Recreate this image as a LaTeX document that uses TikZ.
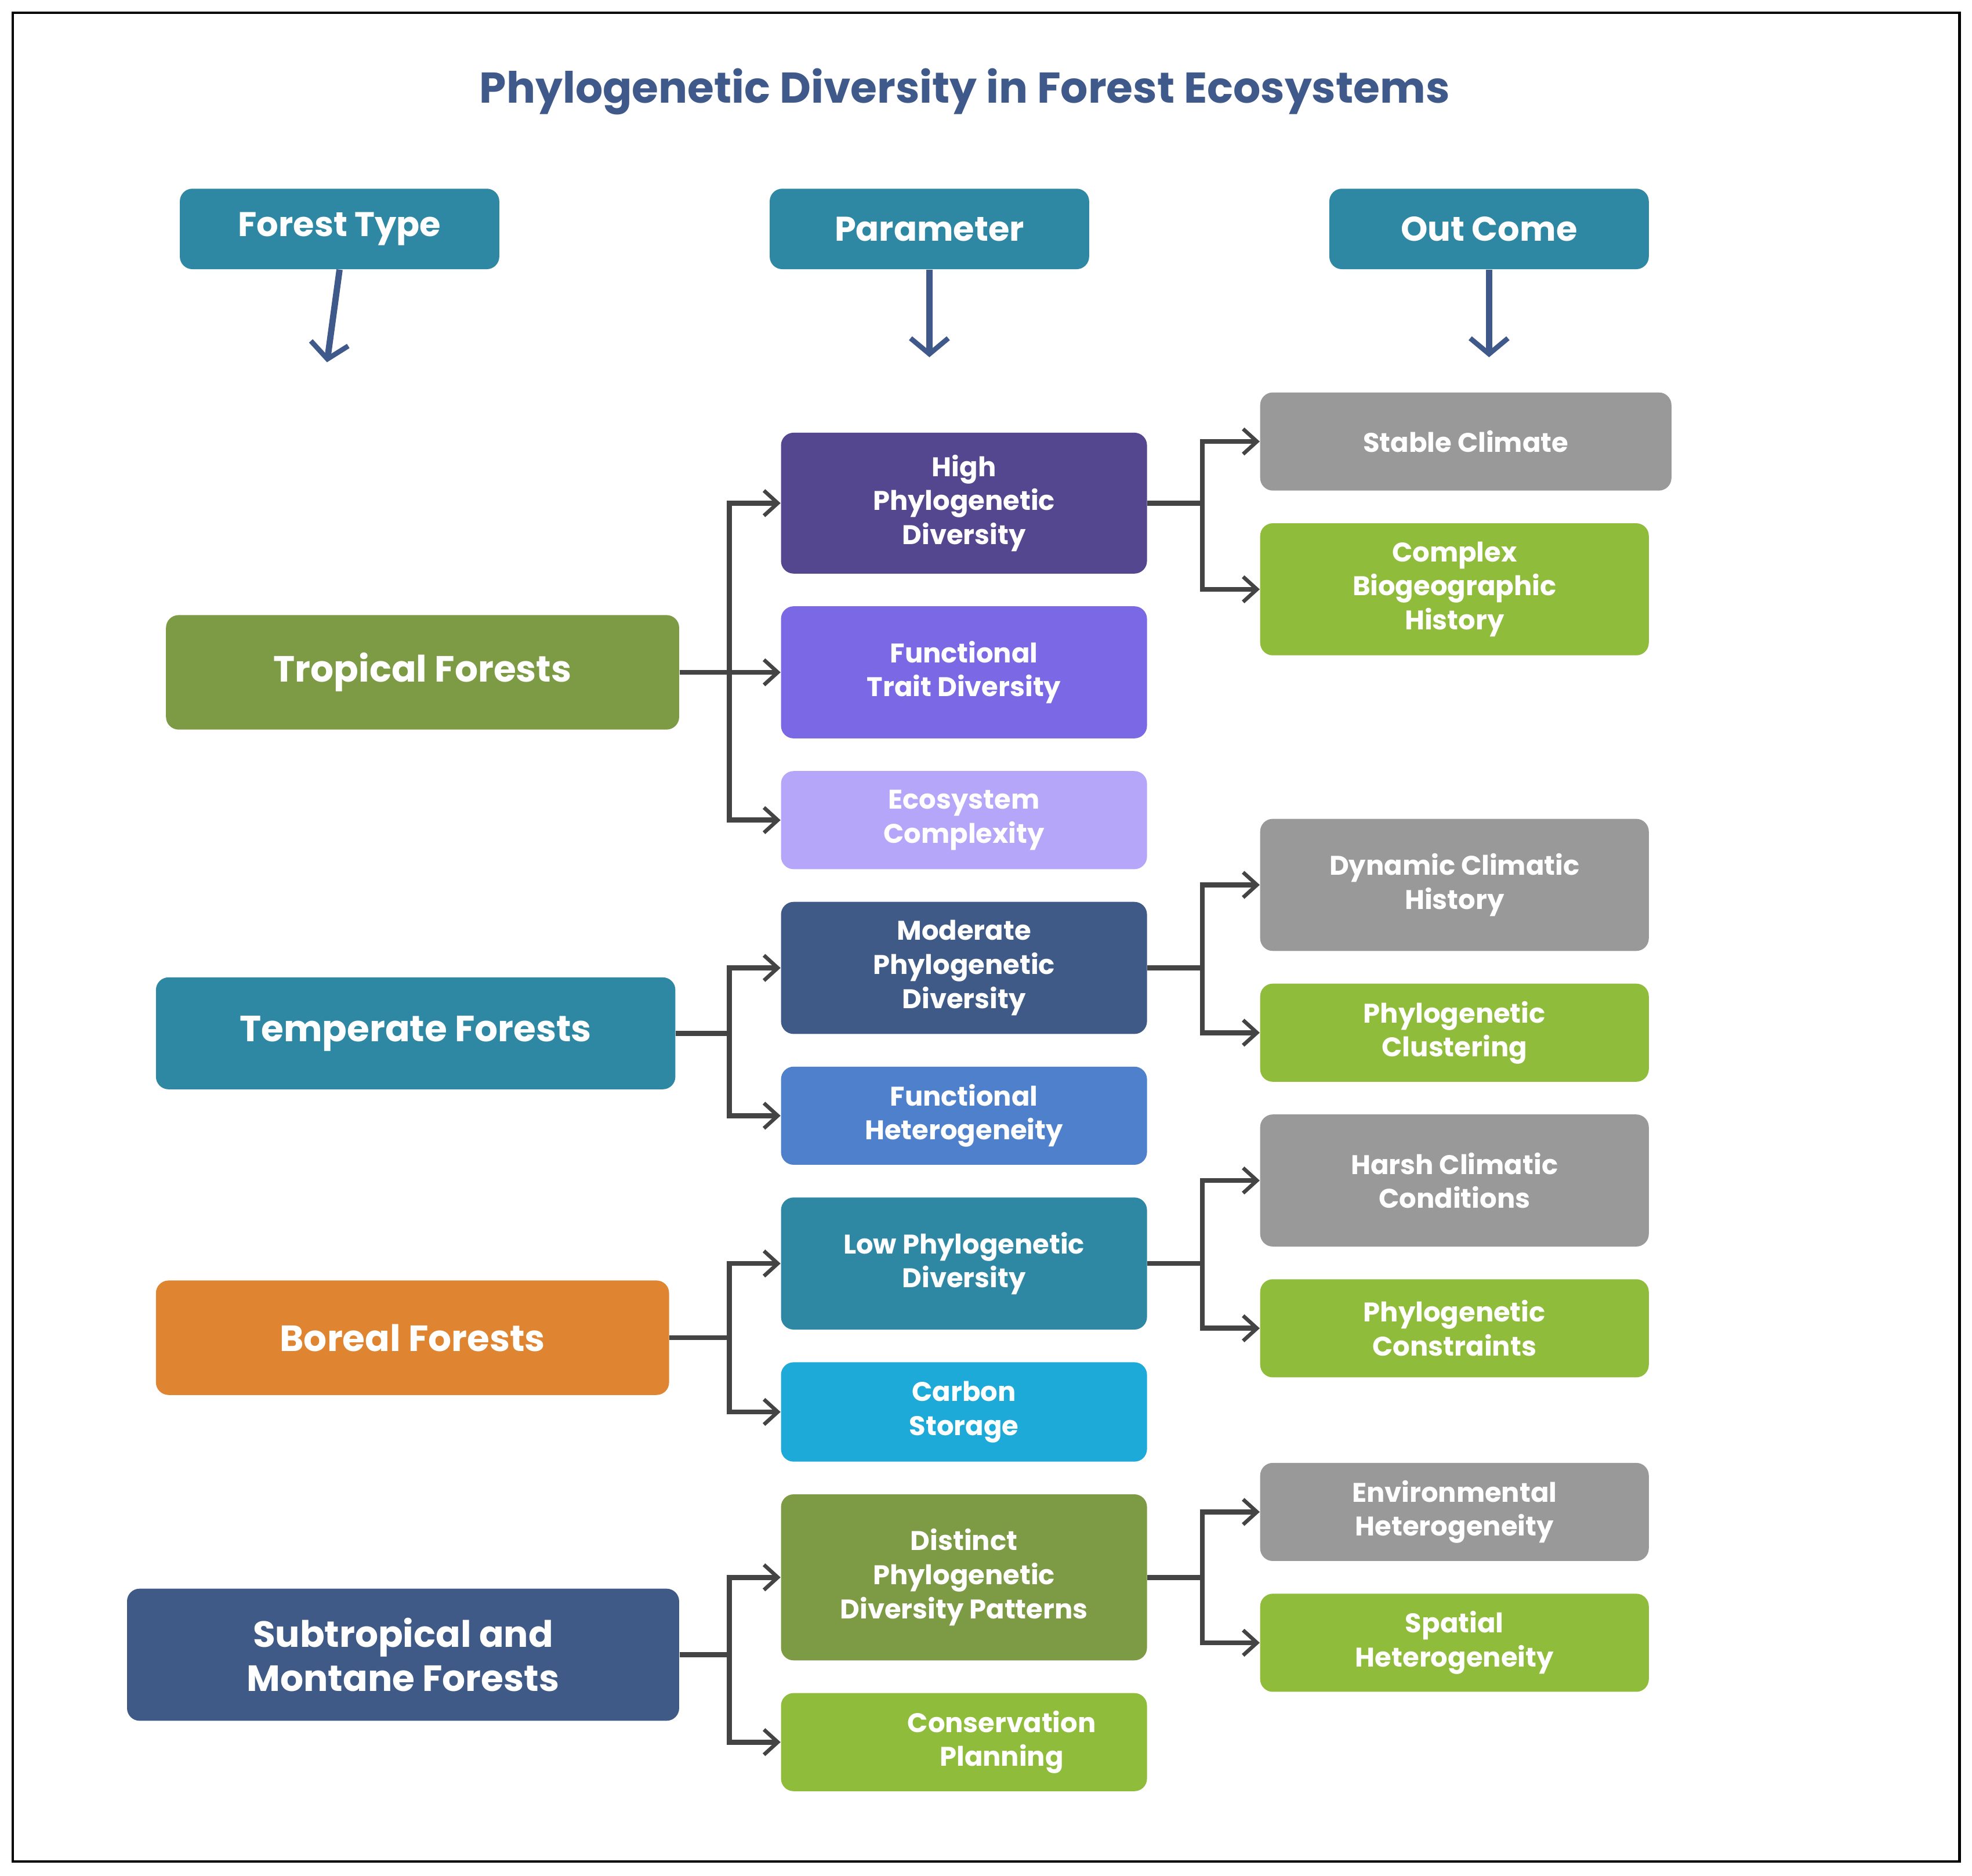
\documentclass[tikz,border=0pt]{standalone}
\usepackage{fontspec}
\setmainfont{Poppins}
\usetikzlibrary{arrows.meta,calc}
\definecolor{ttl}{HTML}{3F5A8A}
\definecolor{hdr}{HTML}{2E88A3}
\definecolor{olive}{HTML}{7D9A45}
\definecolor{orng}{HTML}{DF8430}
\definecolor{navy}{HTML}{3F5A87}
\definecolor{purp}{HTML}{54468F}
\definecolor{viol}{HTML}{7B68E5}
\definecolor{lav}{HTML}{B5A6FA}
\definecolor{blu}{HTML}{4F80CC}
\definecolor{cyan2}{HTML}{1EAAD9}
\definecolor{lime}{HTML}{8FBC3A}
\definecolor{gry}{HTML}{999999}
\definecolor{conn}{HTML}{444444}
\newcommand{\bx}[8]{\node[box,fill=#6,#8,minimum width={(#4-#2)*0.02cm},minimum height={(#5-#3)*0.02cm}] (#1) at ({(#2+#4)/2},{(#3+#5)/2}) {#7};}
\begin{document}
\begin{tikzpicture}[x=0.02cm,y=-0.02cm,
 box/.style={rounded corners=0.2cm,text=white,font=\bfseries,align=center,inner sep=2pt},
 big/.style={font=\fontsize{16.5}{20}\selectfont\bfseries},
 hd/.style={font=\fontsize{15.5}{18}\selectfont\bfseries},
 sm/.style={font=\fontsize{12.2}{15.4}\selectfont\bfseries},
 cn/.style={draw=conn,line width=0.08cm,-{Straight Barb[length=0.22cm,width=0.4cm,line width=0.06cm]}},
 dn/.style={draw=ttl,line width=0.1cm,-{Straight Barb[length=0.25cm,width=0.6cm,line width=0.08cm]}}]
\useasboundingbox (0,0) rectangle (1568,1491);
\fill[white] (0,0) rectangle (1568,1491);
\draw[line width=0.04cm] (10,10) rectangle (1558,1480);
\node[text=ttl,font=\fontsize{19.5}{22}\selectfont\bfseries] (title) at (767,73) {Phylogenetic Diversity in Forest Ecosystems};
\bx{h1}{143}{150}{397}{214}{hdr}{Forest Type}{hd}
\bx{h2}{612}{150}{866}{214}{hdr}{Parameter}{hd}
\bx{h3}{1057}{150}{1311}{214}{hdr}{Out Come}{hd}
\coordinate (a1) at (260,288);\coordinate (a2) at (739,284);\coordinate (a3) at (1184,284);
\draw[dn] (h1.south) -- (a1);\draw[dn] (h2.south) -- (a2);\draw[dn] (h3.south) -- (a3);
% left
\bx{trop}{132}{489}{540}{580}{olive}{Tropical Forests}{big}
\bx{temp}{124}{777}{537}{866}{hdr}{Temperate Forests}{big}
\bx{bor}{124}{1018}{532}{1109}{orng}{Boreal Forests}{big}
\bx{sub}{101}{1263}{540}{1368}{navy}{Subtropical and\\Montane Forests}{big}
% middle
\bx{hpd}{621}{344}{912}{456}{purp}{High\\Phylogenetic\\Diversity}{sm}
\bx{ftd}{621}{482}{912}{587}{viol}{Functional\\Trait Diversity}{sm}
\bx{eco}{621}{613}{912}{691}{lav}{Ecosystem\\Complexity}{sm}
\bx{mpd}{621}{717}{912}{822}{navy}{Moderate\\Phylogenetic\\Diversity}{sm}
\bx{fh}{621}{848}{912}{926}{blu}{Functional\\Heterogeneity}{sm}
\bx{lpd}{621}{952}{912}{1057}{hdr}{Low Phylogenetic\\Diversity}{sm}
\bx{cs}{621}{1083}{912}{1162}{cyan2}{Carbon\\Storage}{sm}
\bx{dpd}{621}{1188}{912}{1320}{olive}{Distinct\\Phylogenetic\\Diversity Patterns}{sm}
\bx{cp}{621}{1346}{912}{1424}{lime}{\hspace*{1.2cm}Conservation\\\hspace*{1.2cm}Planning}{sm}
% right
\bx{sc}{1002}{312}{1329}{390}{gry}{Stable Climate}{sm}
\bx{cbh}{1002}{416}{1311}{521}{lime}{Complex\\Biogeographic\\History}{sm}
\bx{dch}{1002}{651}{1311}{756}{gry}{Dynamic Climatic\\History}{sm}
\bx{pcl}{1002}{782}{1311}{860}{lime}{Phylogenetic\\Clustering}{sm}
\bx{hcc}{1002}{886}{1311}{991}{gry}{Harsh Climatic\\Conditions}{sm}
\bx{pco}{1002}{1017}{1311}{1095}{lime}{Phylogenetic\\Constraints}{sm}
\bx{eh}{1002}{1163}{1311}{1241}{gry}{Environmental\\Heterogeneity}{sm}
\bx{sh}{1002}{1267}{1311}{1345}{lime}{Spatial\\Heterogeneity}{sm}
% buses
\coordinate (bl) at (580,0);\coordinate (br) at (956,0);
\foreach \s/\t in {trop/hpd,trop/ftd,trop/eco,temp/mpd,temp/fh,bor/lpd,bor/cs,sub/dpd,sub/cp,hpd/sc,hpd/cbh,mpd/dch,mpd/pcl,lpd/hcc,lpd/pco,dpd/eh,dpd/sh}{
 \ifnum\pdfstrcmp{\s}{hpd}=0 \def\b{br}\else\ifnum\pdfstrcmp{\s}{mpd}=0 \def\b{br}\else\ifnum\pdfstrcmp{\s}{lpd}=0 \def\b{br}\else\ifnum\pdfstrcmp{\s}{dpd}=0 \def\b{br}\else\def\b{bl}\fi\fi\fi\fi
 \draw[cn,rounded corners=0pt] (\s.east) -- (\s.east -| \b) |- (\t.west);}
\end{tikzpicture}
\end{document}
